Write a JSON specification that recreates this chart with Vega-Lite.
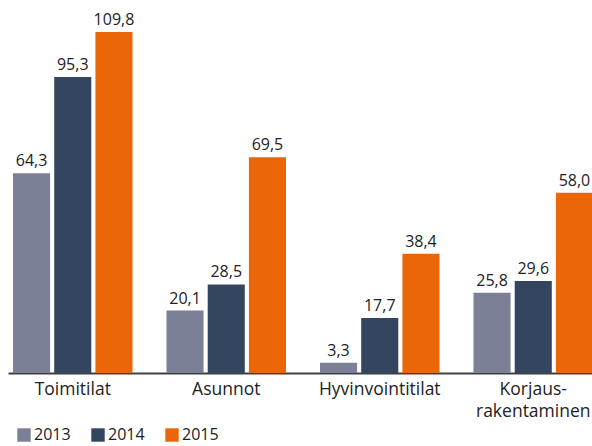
{
  "$schema": "https://vega.github.io/schema/vega-lite/v6.json",
  "width": 590,
  "height": 373,
  "autosize": {"type": "none"},
  "padding": {"left": 8, "top": 0, "right": 0, "bottom": 73},
  "config": {
    "locale": {"number": {"decimal": ",", "thousands": " ", "grouping": [3], "currency": ["", " €"]}},
    "view": {"stroke": null},
    "font": "Open Sans"
  },
  "data": {
    "values": [
      {"kategoria": "Toimitilat", "vuosi": "2013", "arvo": 64.3},
      {"kategoria": "Toimitilat", "vuosi": "2014", "arvo": 95.3},
      {"kategoria": "Toimitilat", "vuosi": "2015", "arvo": 109.8},
      {"kategoria": "Asunnot", "vuosi": "2013", "arvo": 20.1},
      {"kategoria": "Asunnot", "vuosi": "2014", "arvo": 28.5},
      {"kategoria": "Asunnot", "vuosi": "2015", "arvo": 69.5},
      {"kategoria": "Hyvinvointitilat", "vuosi": "2013", "arvo": 3.3},
      {"kategoria": "Hyvinvointitilat", "vuosi": "2014", "arvo": 17.7},
      {"kategoria": "Hyvinvointitilat", "vuosi": "2015", "arvo": 38.4},
      {"kategoria": "Korjausrakentaminen", "vuosi": "2013", "arvo": 25.8},
      {"kategoria": "Korjausrakentaminen", "vuosi": "2014", "arvo": 29.6},
      {"kategoria": "Korjausrakentaminen", "vuosi": "2015", "arvo": 58.0}
    ]
  },
  "encoding": {
    "x": {
      "field": "kategoria", "type": "nominal", "sort": null,
      "scale": {"paddingInner": 0.2215, "paddingOuter": 0.0326},
      "axis": {
        "title": null, "ticks": false, "labelAngle": 0,
        "labelFontSize": 17.5, "labelColor": "#222222", "labelPadding": 7,
        "labelLineHeight": 22, "labelBaseline": "top",
        "labelExpr": "datum.value == 'Korjausrakentaminen' ? ['Korjaus-', 'rakentaminen'] : datum.value",
        "domainColor": "#404040", "domainWidth": 2
      }
    },
    "xOffset": {
      "field": "vuosi", "type": "nominal",
      "scale": {"paddingInner": 0.1, "paddingOuter": 0}
    },
    "y": {
      "field": "arvo", "type": "quantitative",
      "scale": {"domain": [0, 120.1], "nice": false},
      "axis": null
    }
  },
  "layer": [
    {
      "mark": {"type": "bar"},
      "encoding": {
        "color": {
          "field": "vuosi", "type": "nominal",
          "scale": {"domain": ["2013", "2014", "2015"], "range": ["#7b8097", "#34465f", "#eb6608"]},
          "legend": {
            "title": null, "orient": "none", "direction": "horizontal",
            "legendX": 8, "legendY": 427,
            "symbolType": "square", "symbolSize": 180, "symbolStrokeWidth": 0,
            "labelFontSize": 16, "labelColor": "#222222", "labelOffset": 2,
            "columnPadding": 19
          }
        }
      }
    },
    {
      "mark": {"type": "text", "baseline": "bottom", "dy": -4, "fontSize": 16, "color": "#222222"},
      "encoding": {
        "text": {"field": "arvo", "type": "quantitative", "format": ".1f"}
      }
    }
  ]
}
